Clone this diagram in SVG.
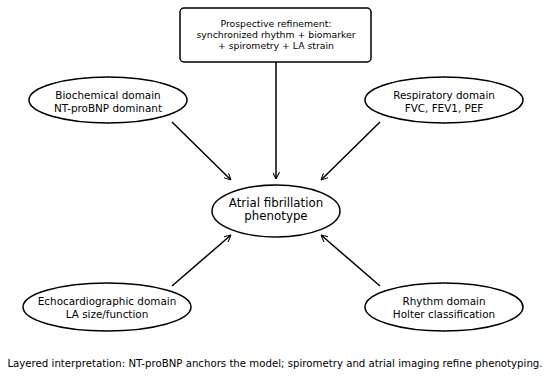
<svg xmlns="http://www.w3.org/2000/svg" width="550" height="376" viewBox="0 0 550 376">
<defs>
<marker id="ah" viewBox="0 0 10 10" refX="10" refY="5" markerWidth="7" markerHeight="7" orient="auto" markerUnits="userSpaceOnUse"><path d="M0,0 L10,5 L0,10" fill="none" stroke="#000" stroke-width="1.5"/></marker>
<style>
text{font-family:"DejaVu Sans",sans-serif;fill:#000;text-anchor:middle}
.n{fill:#fff;stroke:#000;stroke-width:1.5}
.c line{stroke:#000;stroke-width:1.5;marker-end:url(#ah)}
.s{font-size:9.3px}.m{font-size:10.4px}.l{font-size:11.8px}.cap{font-size:10.2px}
</style>
</defs>
<rect width="550" height="376" fill="#fff"/>
<g class="c" id="connectors">
<line x1="276" y1="62" x2="276" y2="179"/>
<line x1="172" y1="122" x2="231" y2="180"/>
<line x1="380" y1="122" x2="321" y2="180"/>
<line x1="172" y1="286" x2="231" y2="235"/>
<line x1="380" y1="286" x2="321" y2="235"/>
</g>
<g id="top"><rect class="n" x="180" y="8" width="191" height="54" rx="4"/>
<text class="s" x="276" y="27">Prospective refinement:</text>
<text class="s" x="276" y="38">synchronized rhythm + biomarker</text>
<text class="s" x="276" y="49">+ spirometry + LA strain</text></g>
<g id="bio"><ellipse class="n" cx="108" cy="100" rx="79" ry="23"/>
<text class="m" x="108" y="99">Biochemical domain</text><text class="m" x="108" y="111.5">NT-proBNP dominant</text></g>
<g id="resp"><ellipse class="n" cx="444" cy="100" rx="79" ry="23"/>
<text class="m" x="444" y="99">Respiratory domain</text><text class="m" x="444" y="111.5">FVC, FEV1, PEF</text></g>
<g id="af"><ellipse class="n" cx="276" cy="211" rx="64" ry="26"/>
<text class="l" x="276" y="207">Atrial fibrillation</text><text class="l" x="276" y="220">phenotype</text></g>
<g id="echo"><ellipse class="n" cx="107" cy="307" rx="84" ry="24"/>
<text class="m" x="107" y="305">Echocardiographic domain</text><text class="m" x="107" y="317.5">LA size/function</text></g>
<g id="rhythm"><ellipse class="n" cx="444" cy="307" rx="79" ry="24"/>
<text class="m" x="444" y="305">Rhythm domain</text><text class="m" x="444" y="317.5">Holter classification</text></g>
<text class="cap" x="275" y="367">Layered interpretation: NT-proBNP anchors the model; spirometry and atrial imaging refine phenotyping.</text>
</svg>
